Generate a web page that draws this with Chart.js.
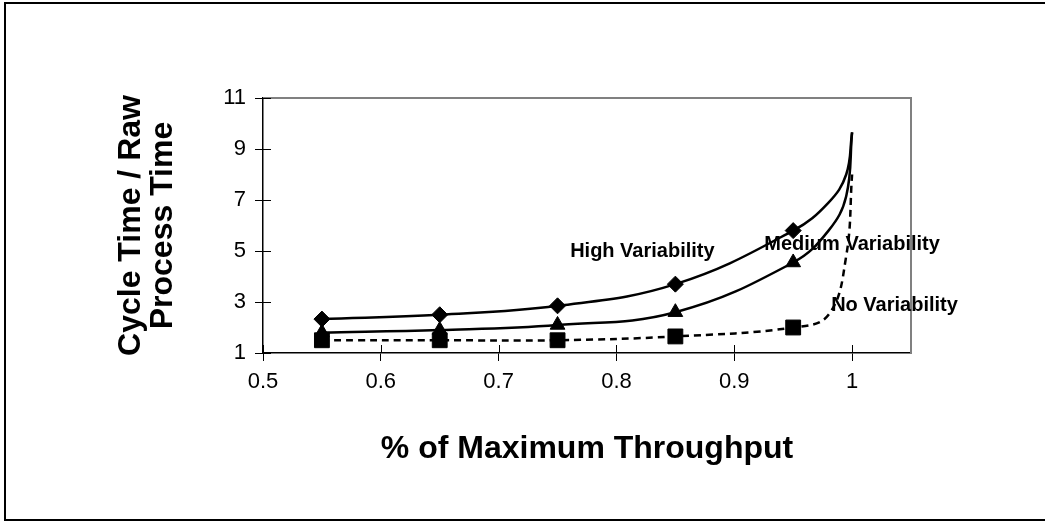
<!DOCTYPE html>
<html lang="en">
<head>
<meta charset="UTF-8">
<title>Cycle Time / Raw Process Time</title>
<script src="https://cdn.jsdelivr.net/npm/chart.js@4.4.1/dist/chart.umd.min.js"></script>
<style>
    body { margin: 0; background: #fff; }
    .frame { position: relative; width: 1045px; height: 521px; overflow: hidden; }
    .frame canvas { position: absolute; left: 0; top: 0; }
    .outline {
        position: absolute; left: 4px; top: 2px; width: 1070px; height: 519px;
        box-sizing: border-box; border: 2px solid #000; pointer-events: none;
    }
</style>
</head>
<body>
<div class="frame">
    <canvas id="chart" width="1045" height="521"></canvas>
    <div class="outline"></div>
</div>
<script>
// values
const throughput = [0.55, 0.65, 0.75, 0.85, 0.95, 0.98, 0.995, 1.0];
const highVariability = [2.33, 2.5, 2.85, 3.7, 5.8, 6.9, 8.0, 9.65];
const mediumVariability = [1.8, 1.9, 2.1, 2.6, 4.55, 5.8, 7.15, 9.65];
const noVariability = [1.5, 1.5, 1.5, 1.65, 2.0, 2.5, 4.8, 8.0];
const markedPoints = 5; // only the first five points have markers
const xTicks = [0.5, 0.6, 0.7, 0.8, 0.9, 1];
const yTicks = [1, 3, 5, 7, 9, 11];
const curveNames = ['High Variability', 'Medium Variability', 'No Variability'];
const curveNameAt = [[0.822, 4.99], [1.0, 5.27], [1.036, 2.87]];

const FONT = "'Liberation Sans', Arial, sans-serif";

function points(values) {
    return throughput.map((x, i) => ({ x: x, y: values[i] }));
}
function radii(r) {
    return throughput.map((x, i) => i < markedPoints ? r : 0);
}

// grey frame on top/right, ticks crossing the axis lines
const crossTicks = {
    id: 'crossTicks',
    beforeDatasetsDraw(chart) {
        const { ctx, chartArea, scales } = chart;
        ctx.save();
        ctx.strokeStyle = '#808080';
        ctx.lineWidth = 2;
        ctx.beginPath();
        ctx.moveTo(chartArea.left, chartArea.top);
        ctx.lineTo(chartArea.right, chartArea.top);
        ctx.lineTo(chartArea.right, chartArea.bottom);
        ctx.stroke();
        ctx.strokeStyle = '#000';
        ctx.lineWidth = 1;
        ctx.beginPath();
        scales.x.ticks.forEach(t => {
            const px = Math.round(scales.x.getPixelForValue(t.value)) + 0.5;
            ctx.moveTo(px, chartArea.bottom);
            ctx.lineTo(px, chartArea.bottom - 8);
        });
        scales.y.ticks.forEach(t => {
            const py = Math.round(scales.y.getPixelForValue(t.value)) + 0.5;
            ctx.moveTo(chartArea.left, py);
            ctx.lineTo(chartArea.left + 8, py);
        });
        ctx.stroke();
        ctx.restore();
    }
};

// text labels next to the curves
const curveLabels = {
    id: 'curveLabels',
    afterDatasetsDraw(chart) {
        const { ctx, scales } = chart;
        ctx.save();
        ctx.font = 'bold 20px ' + FONT;
        ctx.fillStyle = '#000';
        ctx.textAlign = 'center';
        ctx.textBaseline = 'middle';
        curveNames.forEach((name, i) => {
            ctx.fillText(name,
                scales.x.getPixelForValue(curveNameAt[i][0]),
                scales.y.getPixelForValue(curveNameAt[i][1]));
        });
        ctx.restore();
    }
};

const lineStyle = {
    borderColor: '#000',
    borderWidth: 2.5,
    pointBackgroundColor: '#000',
    pointBorderColor: '#000',
    pointBorderWidth: 1,
    tension: 0.4,
    fill: false
};

new Chart(document.getElementById('chart'), {
    type: 'line',
    data: {
        datasets: [
            Object.assign({ label: curveNames[0], data: points(highVariability),
                pointStyle: 'rectRot', pointRadius: radii(8) }, lineStyle),
            Object.assign({ label: curveNames[1], data: points(mediumVariability),
                pointStyle: 'triangle', pointRadius: radii(8.5) }, lineStyle),
            Object.assign({ label: curveNames[2], data: points(noVariability),
                pointStyle: 'rect', pointRadius: radii(10.5), borderDash: [7, 5] }, lineStyle)
        ]
    },
    options: {
        responsive: false,
        animation: false,
        events: [],
        layout: { padding: { left: 0, top: 98, right: 134, bottom: 0 } },
        plugins: { legend: { display: false }, tooltip: { enabled: false } },
        scales: {
            x: {
                type: 'linear',
                min: 0.5,
                max: 1.05,
                afterFit(scale) { scale.height = 168; },
                afterBuildTicks(scale) { scale.ticks = xTicks.map(v => ({ value: v })); },
                grid: { drawOnChartArea: false, tickLength: 8, color: '#000' },
                border: { color: '#000', width: 1.5 },
                ticks: {
                    color: '#000', padding: 8,
                    font: { family: FONT, size: 22 },
                    callback: v => String(Number(v.toFixed(2)))
                },
                title: {
                    display: true,
                    text: '% of Maximum Throughput',
                    color: '#000',
                    font: { family: FONT, size: 32, weight: 'bold', lineHeight: 1.05 },
                    padding: { top: 0, bottom: 55 }
                }
            },
            y: {
                min: 1,
                max: 11,
                afterFit(scale) { scale.width = 263; },
                afterBuildTicks(scale) { scale.ticks = yTicks.map(v => ({ value: v })); },
                grid: { drawOnChartArea: false, tickLength: 8, color: '#000' },
                border: { color: '#000', width: 1.5 },
                ticks: {
                    color: '#000', padding: 9,
                    font: { family: FONT, size: 22 }
                },
                title: {
                    display: true,
                    text: ['Cycle Time / Raw', 'Process Time'],
                    color: '#000',
                    font: { family: FONT, size: 32, weight: 'bold', lineHeight: 1.0 },
                    padding: { top: 115, bottom: 0 }
                }
            }
        }
    },
    plugins: [crossTicks, curveLabels]
});
</script>
</body>
</html>
